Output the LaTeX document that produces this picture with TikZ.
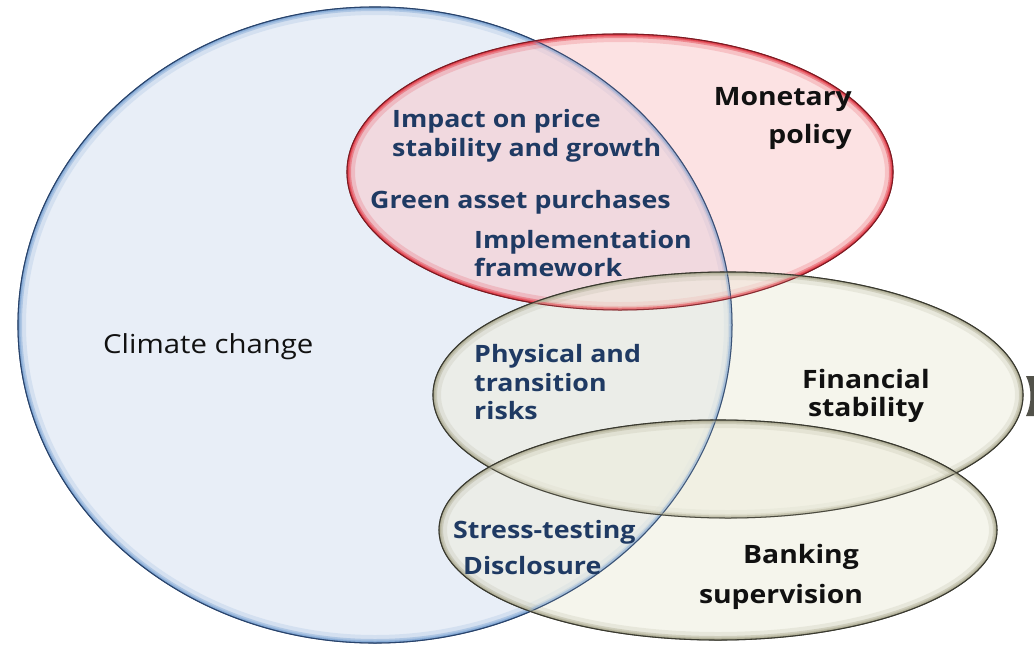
\documentclass[tikz,border=0pt]{standalone}
\usepackage{fontspec}
\setmainfont{Open Sans}
\newfontfamily\lbl[FakeStretch=1.12]{Open Sans}
\definecolor{navyc}{HTML}{1F3A63}
\definecolor{inkc}{HTML}{111111}
\definecolor{blueFill}{HTML}{E8EEF7}
\definecolor{blueEdge}{HTML}{84A9D6}
\definecolor{blueDark}{HTML}{243F68}
\definecolor{redFill}{HTML}{FBC6C9}
\definecolor{redEdge}{HTML}{E4424E}
\definecolor{redDark}{HTML}{7A1820}
\definecolor{finFill}{HTML}{EEEDDD}
\definecolor{finEdge}{HTML}{B2B098}
\definecolor{finDark}{HTML}{34342A}
\newcommand{\vennfill}[8]{%
  \fill[#5, fill opacity=#8] (#1,#2) ellipse [x radius=#3, y radius=#4];
  \begin{scope}
    \clip (#1,#2) ellipse [x radius=#3, y radius=#4];
    \draw[#6, line width=16pt, opacity=0.2] (#1,#2) ellipse [x radius=#3, y radius=#4];
    \draw[#6, line width=8pt, opacity=0.45] (#1,#2) ellipse [x radius=#3, y radius=#4];
    \draw[#6, line width=3.5pt, opacity=0.8] (#1,#2) ellipse [x radius=#3, y radius=#4];
  \end{scope}
  \draw[#7, line width=1.1pt] (#1,#2) ellipse [x radius=#3, y radius=#4];
}
\newcommand{\vennline}[6]{%
  \begin{scope}
    \clip (#1,#2) ellipse [x radius=#3, y radius=#4];
    \draw[#5, line width=5pt, opacity=0.45] (#1,#2) ellipse [x radius=#3, y radius=#4];
  \end{scope}
  \draw[#6, line width=1pt, opacity=0.8] (#1,#2) ellipse [x radius=#3, y radius=#4];
}
\begin{document}
\begin{tikzpicture}[x=1pt,y=-1pt,
  navy/.style={font=\lbl\bfseries\fontsize{23.9}{28}\selectfont, text=navyc, inner sep=0pt, anchor=base west},
  ink/.style={font=\lbl\bfseries\fontsize{25.3}{28}\selectfont, text=inkc, inner sep=0pt, anchor=base},
  plain/.style={font=\lbl\fontsize{26.2}{28}\selectfont, text=inkc, inner sep=0pt, anchor=base west}]
\fill[white] (0,0) rectangle (1034,646);
\useasboundingbox (0,0) rectangle (1034,646);
% dark mark at right edge
\fill[finDark!85] (1026,376) .. controls (1032,388) and (1032,404) .. (1026,416) -- (1034,416) -- (1034,376) -- cycle;
% ellipses
\vennfill{375}{325}{357}{318}{blueFill}{blueEdge}{blueDark}{1}
\vennfill{620}{172}{273}{138}{redFill}{redEdge}{redDark}{0.5}
\vennfill{728}{395}{295}{123}{finFill}{finEdge}{finDark}{0.55}
\vennfill{718}{530}{279}{110}{finFill}{finEdge}{finDark}{0.55}
% edges kept visible on top
\vennline{375}{325}{357}{318}{blueEdge}{blueDark}
\vennline{620}{172}{273}{138}{redEdge}{redDark}
\vennline{728}{395}{295}{123}{finEdge}{finDark}
\vennline{718}{530}{279}{110}{finEdge}{finDark}
% labels
\node[plain] (cc) at (103,353) {Climate change};
\node[navy] (ip1) at (392,127) {Impact on price};
\node[navy] (ip2) at (392,156) {stability and growth};
\node[navy] (gap) at (370,208) {Green asset purchases};
\node[navy] (if1) at (474,248) {Implementation};
\node[navy] (if2) at (474,276) {framework};
\node[ink, anchor=base east] (mp1) at (852,105) {Monetary};
\node[ink, anchor=base east] (mp2) at (852,143) {policy};
\node[navy] (pt1) at (474,362) {Physical and};
\node[navy] (pt2) at (474,391) {transition};
\node[navy] (pt3) at (474,419) {risks};
\node[ink] (fs1) at (866,388) {Financial};
\node[ink] (fs2) at (866,416) {stability};
\node[navy] (st) at (453,538) {Stress-testing};
\node[navy] (dc) at (463,574) {Disclosure};
\node[ink] (bs1) at (801,563) {Banking};
\node[ink] (bs2) at (781,603) {supervision};
\end{tikzpicture}
\end{document}
